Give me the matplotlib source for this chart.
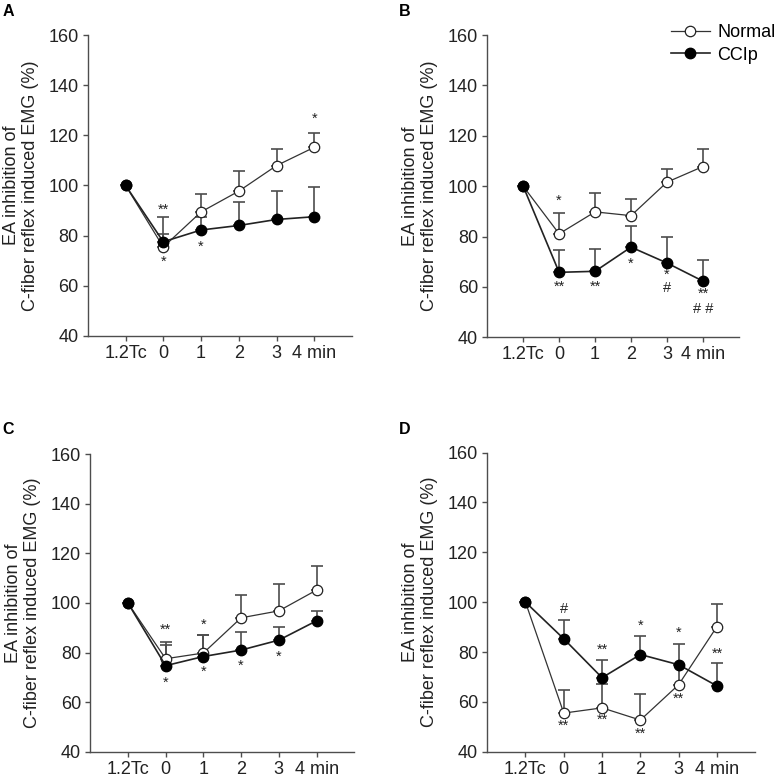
import matplotlib
matplotlib.use("Agg")
import matplotlib.pyplot as plt
import numpy as np

plt.rcParams["font.family"] = ["Liberation Sans", "DejaVu Sans"]

# Data
x_labels = ["1.2Tc", "0", "1", "2", "3", "4 min"]

normal_A = [100, 75.4, 89.4, 97.7, 107.9, 115.2]
normal_A_err = [0, 11.8, 7.3, 7.9, 6.5, 5.9]
ccip_A = [100, 77.5, 82.2, 84.0, 86.4, 87.5]
ccip_A_err = [0, 3.0, 5.3, 9.3, 11.4, 11.9]

normal_B = [100, 81.1, 89.8, 88.3, 101.6, 107.8]
normal_B_err = [0, 8.3, 7.3, 6.5, 5.2, 7.0]
ccip_B = [100, 65.8, 66.2, 75.8, 69.5, 62.3]
ccip_B_err = [0, 8.9, 8.9, 8.3, 10.2, 8.4]

normal_C = [100, 77.5, 79.8, 94.0, 96.8, 105.2]
normal_C_err = [0, 6.8, 7.2, 9.1, 10.8, 9.6]
ccip_C = [100, 74.7, 78.4, 81.0, 85.0, 92.8]
ccip_C_err = [0, 8.3, 8.6, 7.3, 5.4, 3.8]

normal_D = [100, 55.5, 57.6, 52.7, 66.9, 90.2]
normal_D_err = [0, 9.1, 9.4, 10.5, 8.4, 9.1]
ccip_D = [100, 85.3, 69.7, 79.0, 74.9, 66.4]
ccip_D_err = [0, 7.6, 7.3, 7.3, 8.4, 9.1]

# significance marks: (time index, y value, text)
marks_A = [(1, 90.4, "**"), (1, 69.6, "*"), (2, 75.5, "*"), (5, 126.4, "*")]
marks_B = [(1, 94.3, "*"), (1, 60.1, "**"), (2, 60.1, "**"), (3, 69.1, "*"),
           (4, 64.9, "*"), (4, 59.6, "#"), (5, 57.2, "**"), (5, 51.3, "# #")]
marks_C = [(1, 89.0, "**"), (1, 67.8, "*"), (2, 91.3, "*"), (2, 72.2, "*"),
           (3, 74.7, "*"), (4, 78.4, "*")]
marks_D = [(1, 97.3, "#"), (1, 50.5, "**"), (2, 80.7, "**"), (2, 52.8, "**"),
           (3, 90.4, "*"), (3, 47.3, "**"), (4, 87.7, "*"), (4, 61.1, "**"),
           (5, 79.4, "**")]

PANELS = [
    ("A", [0.113, 0.569, 0.340, 0.386], normal_A, normal_A_err, ccip_A, ccip_A_err, marks_A, (0.003, 0.995)),
    ("B", [0.627, 0.567, 0.324, 0.388], normal_B, normal_B_err, ccip_B, ccip_B_err, marks_B, (0.513, 0.995)),
    ("C", [0.116, 0.035, 0.340, 0.382], normal_C, normal_C_err, ccip_C, ccip_C_err, marks_C, (0.003, 0.458)),
    ("D", [0.627, 0.035, 0.345, 0.384], normal_D, normal_D_err, ccip_D, ccip_D_err, marks_D, (0.513, 0.458)),
]

GREY = "#4d4d4d"

fig = plt.figure(figsize=(7.77, 7.79), dpi=100)

for letter, rect, nrm, nrm_err, ccp, ccp_err, marks, lpos in PANELS:
    ax = fig.add_axes(rect)
    x = np.arange(len(x_labels))

    for y, err in [(nrm, nrm_err), (ccp, ccp_err)]:
        ax.errorbar(x, y, yerr=[np.zeros(len(err)), err], fmt="none",
                    ecolor=GREY, elinewidth=1.2, capsize=4.3, capthick=1.2, zorder=1)

    ax.plot(x, nrm, "-o", color="#333333", lw=0.9, ms=7.5, mfc="white",
            mec="#222222", mew=0.9, zorder=3, label="Normal")
    ax.plot(x, ccp, "-o", color="#222222", lw=1.2, ms=7.5, mfc="black",
            mec="black", zorder=4, label="CCIp")

    for xi, yv, txt in marks:
        ax.text(xi, yv, txt, ha="center", va="center", fontsize=10.5, color="#222222")

    ax.set_xlim(-1, 6)
    ax.set_ylim(40, 160)
    ax.set_yticks(np.arange(40, 161, 20))
    ax.set_xticks(x)
    ax.set_xticklabels(x_labels)
    ax.tick_params(axis="both", labelsize=13, color=GREY, length=3.5, width=1,
                   labelcolor="#222222")
    ax.tick_params(axis="x", pad=3)
    ax.tick_params(axis="y", pad=3)
    for side in ["top", "right"]:
        ax.spines[side].set_visible(False)
    for side in ["left", "bottom"]:
        ax.spines[side].set_color(GREY)
        ax.spines[side].set_linewidth(1)
    ax.set_ylabel("EA inhibition of\nC-fiber reflex induced EMG (%)", fontsize=13,
                  color="#222222", labelpad=7, linespacing=1.15)

    fig.text(lpos[0], lpos[1], letter, fontsize=11.5, fontweight="bold", va="top", ha="left")

    if letter == "B":
        ax.legend(loc="upper right", bbox_to_anchor=(1.175, 1.06), frameon=False,
                  fontsize=13, handlelength=2.2, handletextpad=0.4, borderaxespad=0,
                  labelspacing=0.3)

fig.savefig("out.png", dpi=100)
